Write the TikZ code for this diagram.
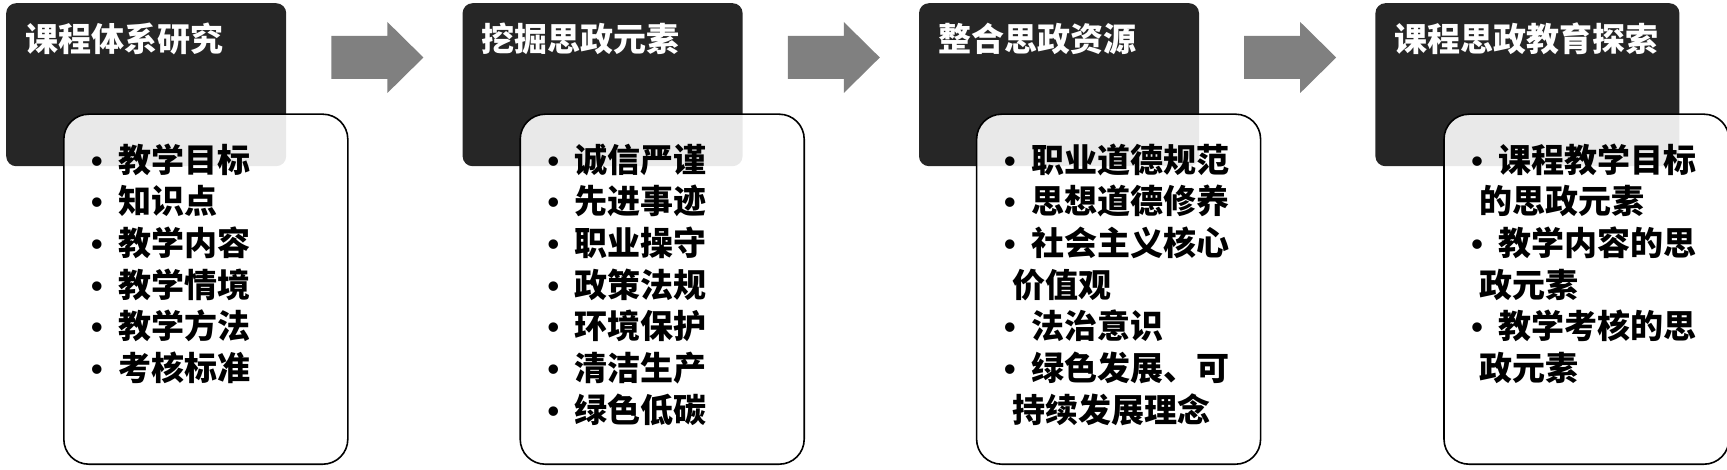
\documentclass[tikz,border=0pt]{standalone}
\usepackage{fontspec}
\setmainfont{Noto Sans CJK SC}
\newfontfamily\bulletfont{Liberation Sans}
\usepackage{xcolor}
\usepackage{tikz}
\usetikzlibrary{shapes,arrows,positioning}
\definecolor{headgray}{HTML}{262626}
\definecolor{flowgray}{HTML}{808080}
\newcommand{\itm}{\makebox[27pt][l]{\bulletfont\bfseries •}}
\newcommand{\wrp}{\hspace*{8pt}}
\tikzstyle{head} = [rectangle, rounded corners=10pt, fill=headgray, text=white, inner sep=0pt, inner xsep=19pt, text height=48pt, text depth=115pt, align=left, font={\fontsize{33}{40}\selectfont\bfseries}]
\tikzstyle{list} = [rectangle, rounded corners=25pt, draw=black, line width=1.6pt, fill=white, fill opacity=0.9, draw opacity=1, minimum width=284pt, minimum height=350pt, anchor=north west]
\tikzstyle{items} = [inner sep=0pt, align=left, text width=250pt, font={\fontsize{33}{41.7}\selectfont\bfseries}]
\tikzstyle{flow} = [fill=flowgray]

\begin{document}
\begin{tikzpicture}[x=1pt, y=1pt]
    \useasboundingbox (0,0) rectangle (1727,-470);
    \node [head, text width=242pt, anchor=north west] (head1) at (6,-3) {课程体系研究};
    \node [head, text width=242pt, right=176pt of head1] (head2) {挖掘思政元素};
    \node [head, text width=242pt, right=176pt of head2] (head3) {整合思政资源};
    \node [head, text width=266pt, right=176pt of head3] (head4) {课程思政教育探索};

    \node [list] (list1) at ([shift={(57pt,53pt)}]head1.south west) {};
    \node [list] (list2) at ([shift={(57pt,53pt)}]head2.south west) {};
    \node [list] (list3) at ([shift={(57pt,53pt)}]head3.south west) {};
    \node [list, minimum width=285pt] (list4) at ([shift={(68pt,53pt)}]head4.south west) {};

    \node [items, below right=30pt and 28pt of list1.north west] (items1)
        {\itm 教学目标\\ \itm 知识点\\ \itm 教学内容\\ \itm 教学情境\\ \itm 教学方法\\ \itm 考核标准};
    \node [items, below right=30pt and 28pt of list2.north west] (items2)
        {\itm 诚信严谨\\ \itm 先进事迹\\ \itm 职业操守\\ \itm 政策法规\\ \itm 环境保护\\ \itm 清洁生产\\ \itm 绿色低碳};
    \node [items, below right=30pt and 28pt of list3.north west] (items3)
        {\itm 职业道德规范\\ \itm 思想道德修养\\ \itm 社会主义核心\\ \wrp 价值观\\ \itm 法治意识\\ \itm 绿色发展、可\\ \wrp 持续发展理念};
    \node [items, below right=30pt and 28pt of list4.north west] (items4)
        {\itm 课程教学目标\\ \wrp 的思政元素\\ \itm 教学内容的思\\ \wrp 政元素\\ \itm 教学考核的思\\ \wrp 政元素};

    % block arrows between the steps
    \foreach \i in {1,2,3}
        \fill [flow] ([shift={(45pt,-54.5pt)}]head\i.north east) -- ++(0,21.5) -- ++(56,0) -- ++(0,14)
            -- ++(36,-35.5) -- ++(-36,-35.5) -- ++(0,14) -- ++(-56,0) -- cycle;
\end{tikzpicture}
\end{document}
